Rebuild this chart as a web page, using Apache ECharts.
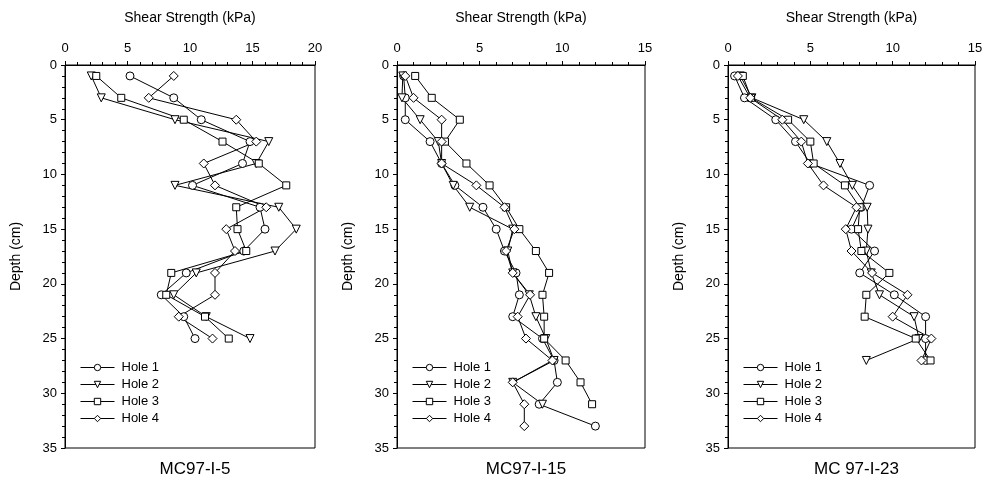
<!DOCTYPE html>
<html>
<head>
<meta charset="utf-8">
<script src="https://cdn.jsdelivr.net/npm/echarts@6/dist/echarts.min.js"></script>
<style>
  html, body { margin: 0; padding: 0; background: #fff; }
  #main { width: 987px; height: 479px; }
</style>
</head>
<body>
<div id="main"></div>
<script>
// depth (cm) of each reading, every 2 cm starting at 1
var depths = [1, 3, 5, 7, 9, 11, 13, 15, 17, 19, 21, 23, 25, 27, 29, 31, 33];

var holeNames = ['Hole 1', 'Hole 2', 'Hole 3', 'Hole 4'];
var panelTitles = ['MC97-I-5', 'MC97-I-15', 'MC 97-I-23'];
var xMaxes = [20, 15, 15];

// MC97-I-5 shear strength (kPa)
var p1Hole1 = [5.2, 8.7, 10.9, 14.8, 14.2, 10.2, 15.6, 16.0, 14.3, 9.7, 7.7, 9.5, 10.4];
var p1Hole2 = [2.1, 2.9, 8.8, 16.3, 15.3, 8.8, 17.1, 18.5, 16.8, 10.5, 8.7, 11.3, 14.8];
var p1Hole3 = [2.5, 4.5, 9.5, 12.6, 15.5, 17.7, 13.7, 13.8, 14.5, 8.5, 8.1, 11.2, 13.1];
var p1Hole4 = [8.7, 6.7, 13.7, 15.3, 11.1, 12.0, 16.1, 12.9, 13.6, 12.0, 12.0, 9.1, 11.8];

// MC97-I-15
var p2Hole1 = [0.4, 0.5, 0.5, 2.0, 2.7, 3.5, 5.2, 6.0, 6.5, 7.2, 7.4, 7.0, 8.8, 9.5, 9.7, 8.6, 12.0];
var p2Hole2 = [0.35, 0.3, 1.4, 2.5, 2.7, 3.4, 4.4, 7.0, 6.7, 7.0, 8.0, 8.4, 9.0, 9.5, 7.0, 8.8];
var p2Hole3 = [1.1, 2.1, 3.8, 2.9, 4.2, 5.6, 6.6, 7.4, 8.4, 9.2, 8.8, 8.9, 8.9, 10.2, 11.1, 11.8];
var p2Hole4 = [0.5, 1.0, 2.7, 2.7, 2.7, 4.8, 6.5, 7.1, 6.6, 7.0, 8.05, 7.3, 7.8, 9.4, 7.0, 7.7, 7.7];

// MC 97-I-23
var p3Hole1 = [0.4, 1.0, 2.9, 4.1, 5.0, 8.6, 8.1, 7.5, 8.9, 8.0, 10.1, 12.0, 12.0, 12.0];
var p3Hole2 = [0.75, 1.45, 4.6, 6.0, 6.8, 7.55, 8.45, 8.5, 8.4, 8.7, 9.2, 11.3, 11.6, 8.4];
var p3Hole3 = [0.9, 1.4, 3.65, 5.0, 5.2, 7.1, 8.0, 7.9, 8.1, 9.8, 8.4, 8.3, 11.4, 12.3];
var p3Hole4 = [0.6, 1.35, 3.3, 4.45, 4.85, 5.8, 7.8, 7.15, 7.5, 8.75, 10.9, 10.0, 12.35, 11.75];

var panels = [
    [p1Hole1, p1Hole2, p1Hole3, p1Hole4],
    [p2Hole1, p2Hole2, p2Hole3, p2Hole4],
    [p3Hole1, p3Hole2, p3Hole3, p3Hole4]
];

// layout of the three plot boxes
var boxLeft = [65, 397, 728];
var boxWidth = [250, 248, 247];
var boxTop = 65, boxHeight = 383;

var font = '"Liberation Sans", Arial, sans-serif';
var symbols = ['circle', 'triangle', 'rect', 'diamond'];
var symbolRot = [0, 180, 0, 0];
var symbolSizes = [8, 8, 7, 9];

function pairUp(vals){
    var out = [];
    for (var i = 0; i < vals.length; i++) {
        out.push([vals[i], depths[i]]);
    }
    return out;
}

var grids = [], xAxes = [], yAxes = [], series = [], titles = [], legends = [];

for (var p = 0; p < 3; p++) {
    grids.push({
        left: boxLeft[p], top: boxTop, width: boxWidth[p], height: boxHeight,
        show: true, borderColor: '#000', borderWidth: 1, backgroundColor: 'transparent'
    });
    xAxes.push({
        gridIndex: p, type: 'value', position: 'top',
        min: 0, max: xMaxes[p], interval: 5,
        name: 'Shear Strength (kPa)', nameLocation: 'middle', nameGap: 40,
        nameTextStyle: { fontFamily: font, fontSize: 14, color: '#000' },
        axisLine: { lineStyle: { color: '#000', width: 1 } },
        axisTick: { inside: false, length: 4, lineStyle: { color: '#000' } },
        minorTick: { show: true, splitNumber: 5, length: 3, lineStyle: { color: '#000' } },
        axisLabel: { fontFamily: font, fontSize: 13, color: '#000', margin: 10 },
        splitLine: { show: false }
    });
    yAxes.push({
        gridIndex: p, type: 'value', inverse: true,
        min: 0, max: 35, interval: 5,
        name: 'Depth (cm)', nameLocation: 'middle', nameGap: 42, nameRotate: 90,
        nameTextStyle: { fontFamily: font, fontSize: 14, color: '#000' },
        axisLine: { lineStyle: { color: '#000', width: 1 } },
        axisTick: { inside: false, length: 4, lineStyle: { color: '#000' } },
        minorTick: { show: true, splitNumber: 5, length: 3, lineStyle: { color: '#000' } },
        axisLabel: { fontFamily: font, fontSize: 13, color: '#000', margin: 8 },
        splitLine: { show: false }
    });
    titles.push({
        text: panelTitles[p],
        left: boxLeft[p] + boxWidth[p] / 2, top: 456, textAlign: 'center',
        textStyle: { fontFamily: font, fontSize: 17, fontWeight: 'normal', color: '#000' }
    });
    legends.push({
        data: holeNames, orient: 'vertical',
        left: boxLeft[p] + 10, top: 356,
        itemWidth: 34, itemHeight: 8, itemGap: 4,
        lineStyle: { width: 1, color: '#000' },
        itemStyle: { color: '#fff', borderColor: '#000', borderWidth: 1 },
        textStyle: { fontFamily: font, fontSize: 13, color: '#000', padding: [0, 0, 0, 2] },
        selectedMode: false
    });
    for (var h = 0; h < 4; h++) {
        series.push({
            name: holeNames[h], type: 'line',
            xAxisIndex: p, yAxisIndex: p,
            data: pairUp(panels[p][h]),
            symbol: symbols[h], symbolRotate: symbolRot[h], symbolSize: symbolSizes[h],
            showAllSymbol: true,
            lineStyle: { color: '#000', width: 1 },
            itemStyle: { color: '#fff', borderColor: '#000', borderWidth: 1 },
            emphasis: { disabled: true },
            animation: false
        });
    }
}

var chart = echarts.init(document.getElementById('main'));
chart.setOption({
    backgroundColor: '#fff',
    animation: false,
    title: titles,
    legend: legends,
    grid: grids,
    xAxis: xAxes,
    yAxis: yAxes,
    series: series
});
</script>
</body>
</html>
